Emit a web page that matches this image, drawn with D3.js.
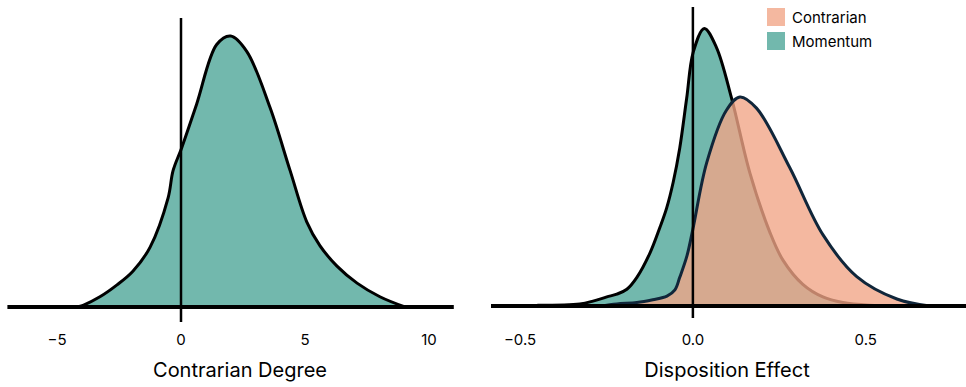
<!DOCTYPE html>
<html>
<head>
<meta charset="utf-8">
<script src="https://cdn.jsdelivr.net/npm/d3@7"></script>
<style>
  body { margin: 0; background: #fff; }
  text { font-family: Inter, "Open Sans", sans-serif; fill: #000; }
</style>
</head>
<body>
<svg id="chart" width="966" height="387"></svg>
<script>
// contrarian degree density (left panel)
const degreeX = [-4.19, -3.95, -3.27, -2.58, -1.94, -1.25, -0.52, -0.32, 0.03, 0.63, 1.44, 2.0, 2.65, 3.59, 4.40, 5.07, 5.60, 6.29, 7.10, 8.02, 9.03];
const degreeY = [0, 0.001, 0.006, 0.013, 0.021, 0.035, 0.064, 0.080, 0.0935, 0.119, 0.154, 0.159, 0.150, 0.117, 0.080, 0.050, 0.036, 0.024, 0.014, 0.006, 0];

// disposition effect densities (right panel)
const momentumX = [-0.45, -0.327, -0.289, -0.249, -0.22, -0.191, -0.162, -0.124, -0.095, -0.076, -0.057, -0.038, -0.018, 0.001, 0.033, 0.068, 0.112, 0.165, 0.223, 0.26, 0.318, 0.376, 0.434, 0.512, 0.58];
const momentumY = [0.01, 0.03, 0.07, 0.13, 0.17, 0.24, 0.41, 0.76, 1.13, 1.40, 1.77, 2.26, 2.97, 3.63, 3.97, 3.70, 2.97, 1.90, 1.05, 0.66, 0.31, 0.13, 0.05, 0.01, 0];
const contrarianX = [-0.269, -0.22, -0.162, -0.116, -0.075, -0.052, -0.038, -0.017, 0, 0.040, 0.097, 0.136, 0.184, 0.28, 0.376, 0.474, 0.59, 0.685];
const contrarianY = [0, 0.03, 0.05, 0.09, 0.14, 0.23, 0.41, 0.72, 1.10, 2.05, 2.80, 2.99, 2.83, 1.98, 1.02, 0.42, 0.10, 0];

const leftTicks = [-5, 0, 5, 10];
const rightTicks = [-0.5, 0, 0.5];
const legendLabels = ['Contrarian', 'Momentum'];

const teal = 'rgb(114,184,173)';
const salmon = 'rgb(241,165,134)';

const svg = d3.select('#chart');

const zip = (xs, ys) => xs.map((v, i) => [v, ys[i]]);

function panel(opts) {
  const g = svg.append('g');
  const x = d3.scaleLinear().domain(opts.xDomain).range(opts.xRange);
  const y = d3.scaleLinear().domain(opts.yDomain).range([opts.base, opts.top]);
  const curve = d3.curveCatmullRom.alpha(0.5);

  const area = d3.area().x(d => x(d[0])).y0(opts.base).y1(d => Math.min(opts.base, y(d[1]))).curve(curve);
  const line = d3.line().x(d => x(d[0])).y(d => y(d[1])).curve(curve);

  opts.series.forEach((s) => {
    g.append('path').datum(s.data)
      .attr('d', area)
      .attr('fill', s.fill)
      .attr('fill-opacity', s.opacity);
    g.append('path').datum(s.data)
      .attr('d', line)
      .attr('fill', 'none')
      .attr('stroke', s.stroke)
      .attr('stroke-width', 3)
      .attr('stroke-linejoin', 'round');
  });

  // baseline
  g.append('line')
    .attr('x1', opts.xRange[0]).attr('x2', opts.xRange[1])
    .attr('y1', opts.base).attr('y2', opts.base)
    .attr('stroke', '#000').attr('stroke-width', 4);

  // zero line
  g.append('line')
    .attr('x1', x(0)).attr('x2', x(0))
    .attr('y1', opts.vTop).attr('y2', opts.vBottom)
    .attr('stroke', '#000').attr('stroke-width', 2.5);

  g.selectAll('.tick-label')
    .data(opts.ticks)
    .enter()
    .append('text')
    .attr('class', 'tick-label')
    .attr('x', d => x(d))
    .attr('y', 345)
    .attr('text-anchor', 'middle')
    .style('font-size', '15px')
    .text(opts.format);

  g.append('text')
    .attr('x', opts.titleX)
    .attr('y', 377)
    .attr('text-anchor', 'middle')
    .style('font-size', '20px')
    .text(opts.title);

  return { g, x, y };
}

panel({
  xDomain: [-7, 11], xRange: [7.4, 453.8],
  yDomain: [0, 0.159], base: 307, top: 36,
  vTop: 18, vBottom: 322,
  ticks: leftTicks, format: d => d3.format('d')(d),
  title: 'Contrarian Degree', titleX: 240,
  series: [{ data: zip(degreeX, degreeY), fill: teal, opacity: 1, stroke: '#000' }]
});

panel({
  xDomain: [-0.584, 0.79], xRange: [491, 966],
  yDomain: [0, 3.99], base: 306, top: 27,
  vTop: 7, vBottom: 318,
  ticks: rightTicks, format: d => d3.format('.1f')(d),
  title: 'Disposition Effect', titleX: 727,
  series: [
    { data: zip(momentumX, momentumY), fill: teal, opacity: 1, stroke: '#000' },
    { data: zip(contrarianX, contrarianY), fill: salmon, opacity: 0.79, stroke: '#10263a' }
  ]
});

// legend
const legend = svg.append('g').attr('transform', 'translate(767,8)');
const legendColors = [[salmon, 0.79], [teal, 1]];
legendLabels.forEach((label, i) => {
  legend.append('rect')
    .attr('x', 0).attr('y', i * 24)
    .attr('width', 18).attr('height', 18)
    .attr('fill', legendColors[i][0])
    .attr('fill-opacity', legendColors[i][1]);
  legend.append('text')
    .attr('x', 25).attr('y', i * 24 + 14.5)
    .style('font-size', '15px')
    .text(label);
});
</script>
</body>
</html>
